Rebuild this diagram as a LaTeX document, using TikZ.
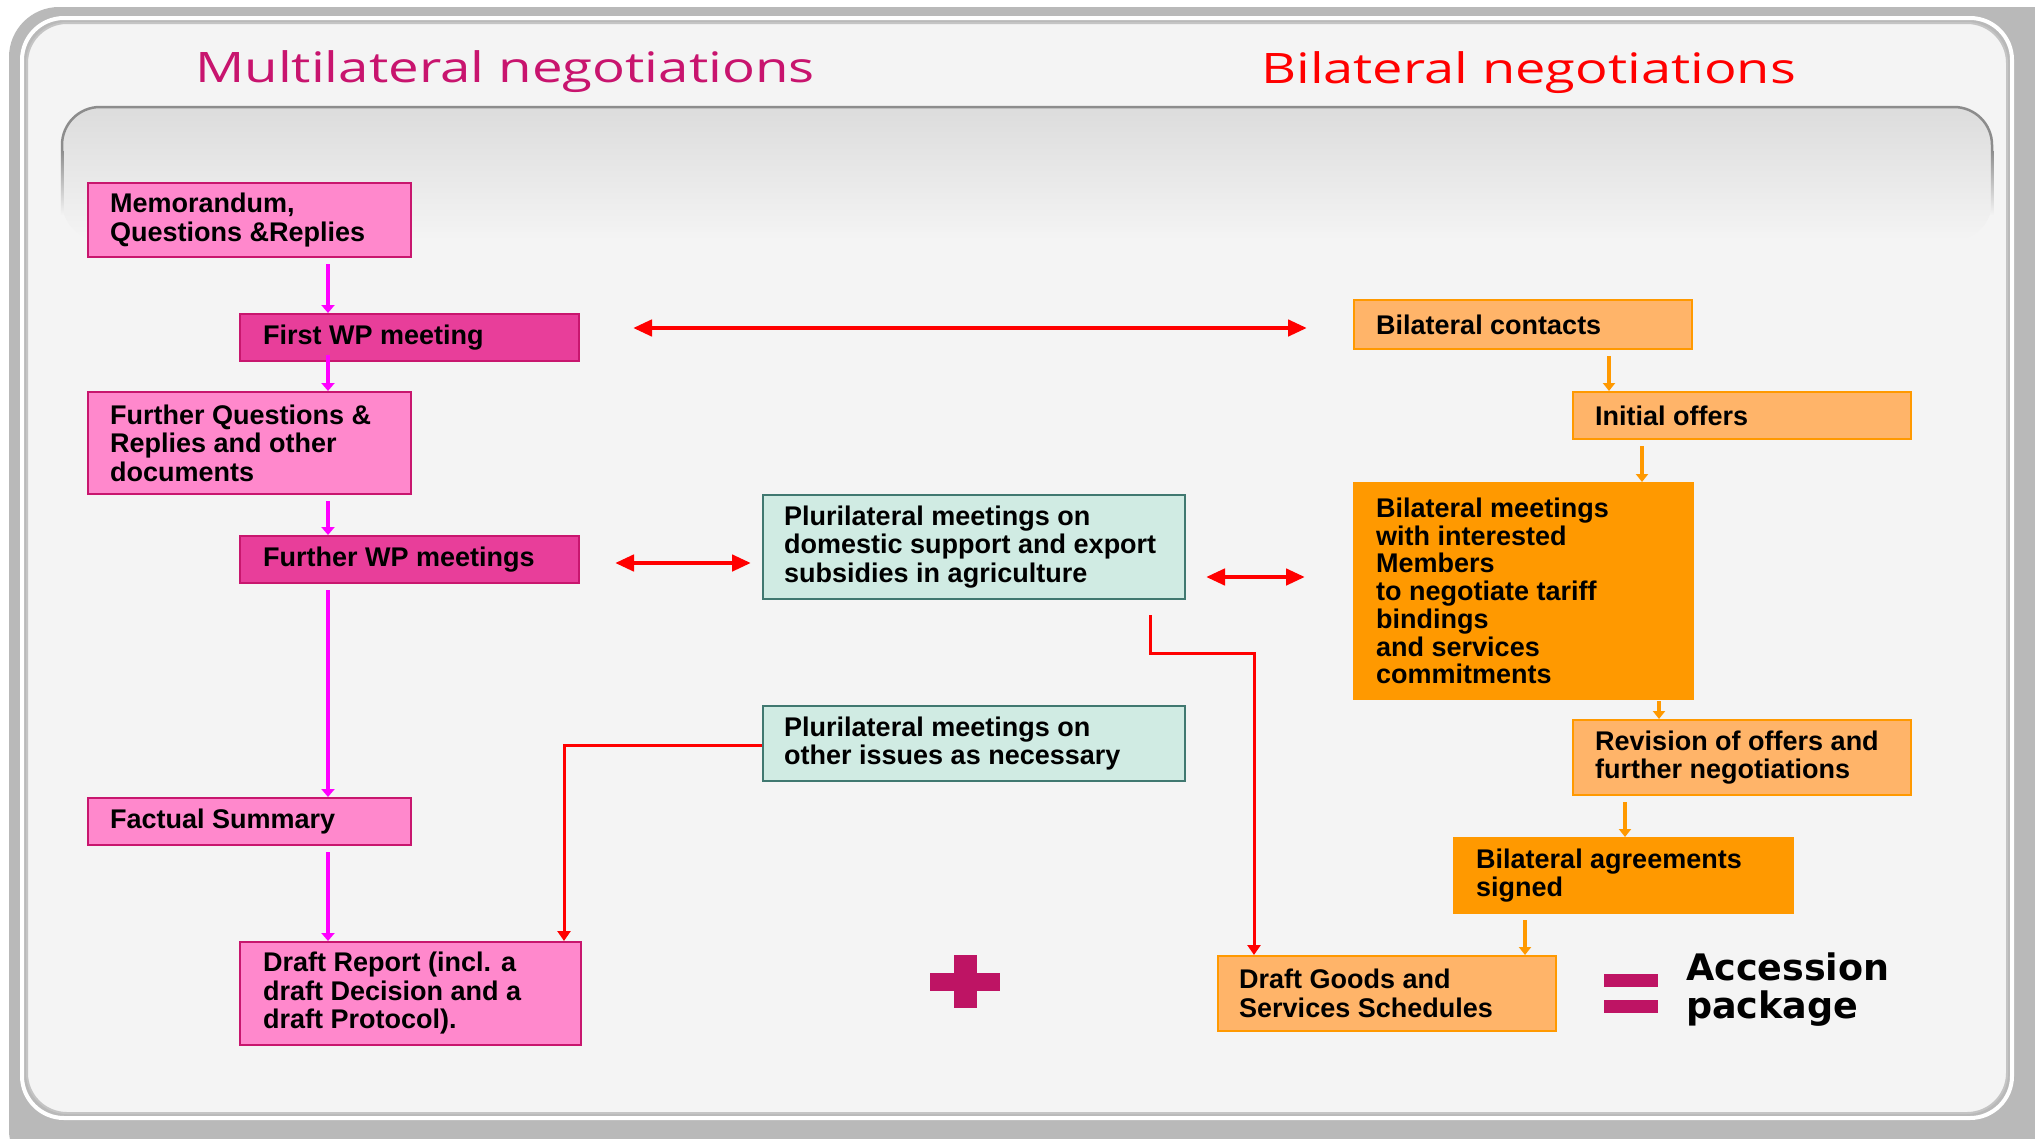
\documentclass[tikz,border=0pt]{standalone}
\usepackage{graphicx}
\usepackage{fontspec}
\setmainfont{Liberation Sans}
\newfontfamily\titlefont{Open Sans}
\newfontfamily\accfont{DejaVu Sans}
\usetikzlibrary{arrows.meta}
\definecolor{bgc}{RGB}{244,244,244}
\definecolor{bandc}{RGB}{185,185,185}
\definecolor{panelline}{RGB}{196,196,196}
\definecolor{tabline}{RGB}{140,140,140}
\definecolor{tabtop}{RGB}{220,220,220}
\definecolor{pinkl}{RGB}{255,136,204}
\definecolor{pinkd}{RGB}{232,62,154}
\definecolor{pinkb}{RGB}{200,22,110}
\definecolor{tealf}{RGB}{208,235,227}
\definecolor{tealb}{RGB}{64,120,112}
\definecolor{orl}{RGB}{255,180,105}
\definecolor{ord}{RGB}{255,153,0}
\definecolor{crim}{RGB}{190,20,100}
\definecolor{magl}{RGB}{255,0,255}
\definecolor{titlemag}{RGB}{200,20,110}
\begin{document}
\begin{tikzpicture}[x=1pt,y=-1pt,
  boxbase/.style={rectangle, line width=2pt, inner sep=0pt, anchor=north west},
  pinkbox/.style={boxbase, fill=pinkl, draw=pinkb},
  darkpinkbox/.style={boxbase, fill=pinkd, draw=pinkb},
  tealbox/.style={boxbase, fill=tealf, draw=tealb},
  lorbox/.style={boxbase, fill=orl, draw=ord},
  dorbox/.style={boxbase, fill=ord, draw=ord},
  btext/.style={anchor=west, align=left, inner sep=0pt, text=black,
    font=\bfseries\fontsize{27}{28.5}\selectfont},
  magarrow/.style={draw=magl, line width=4pt, shorten <=6pt,
    -{Triangle[length=8pt,width=13pt]}},
  redbig/.style={draw=red, line width=4.5pt,
    {Triangle[length=19pt,width=16pt]}-{Triangle[length=19pt,width=16pt]}},
  redthin/.style={draw=red, line width=3pt, -{Triangle[length=10pt,width=13pt]}},
  orarrow/.style={draw=ord, line width=3.5pt, shorten <=6pt,
    -{Triangle[length=8pt,width=12pt]}},
  titlestyle/.style={anchor=base west, inner sep=0pt,
    font=\titlefont\fontsize{42}{50}\selectfont}
]
\useasboundingbox (0,0) rectangle (2035,1138);
% ---------- frame ----------
\fill[white] (0,0) rectangle (2035,1138);
\fill[bandc, rounded corners=50pt] (9,7) rectangle (2080,1180);
\draw[white, line width=4pt, rounded corners=42pt] (22,18) rectangle (2012,1118);
\filldraw[fill=bgc, draw=panelline, line width=2pt, rounded corners=40pt] (27,23) rectangle (2007,1113);
% tab panel
\shade[top color=tabtop, bottom color=bgc, rounded corners=38pt] (62,240) -- (62,107) -- (1992,107) -- (1992,240) -- cycle;
\draw[tabline, line width=2.5pt, rounded corners=38pt] (62,150) -- (62,107) -- (1992,107) -- (1992,150);
\shade[top color=tabline, bottom color=bgc] (60.75,150) rectangle (63.25,215);
\shade[top color=tabline, bottom color=bgc] (1990.75,150) rectangle (1993.25,215);
% ---------- titles ----------
\node[titlestyle, text=titlemag] (multi) at (195,82) {\scalebox{1.3}[1]{Multilateral negotiations}};
\node[titlestyle, text=red] (bilat) at (1261,83) {\scalebox{1.29}[1]{Bilateral negotiations}};
% ---------- boxes ----------
\node[pinkbox, minimum width=323pt, minimum height=74pt] (memo) at (87,182) {};
\node[darkpinkbox, minimum width=339pt, minimum height=47pt] (fwp) at (239,313) {};
\node[pinkbox, minimum width=323pt, minimum height=102pt] (fq) at (87,391) {};
\node[darkpinkbox, minimum width=339pt, minimum height=47pt] (fwpm) at (239,535) {};
\node[pinkbox, minimum width=323pt, minimum height=47pt] (fact) at (87,797) {};
\node[pinkbox, minimum width=341pt, minimum height=103pt] (draft) at (239,941) {};
\node[tealbox, minimum width=422pt, minimum height=104pt] (pluri1) at (762,494) {};
\node[tealbox, minimum width=422pt, minimum height=75pt] (pluri2) at (762,705) {};
\node[lorbox, minimum width=338pt, minimum height=49pt] (contacts) at (1353,299) {};
\node[lorbox, minimum width=338pt, minimum height=47pt] (offers) at (1572,391) {};
\node[dorbox, minimum width=339pt, minimum height=216pt] (bmeet) at (1353,482) {};
\node[lorbox, minimum width=338pt, minimum height=75pt] (revision) at (1572,719) {};
\node[dorbox, minimum width=339pt, minimum height=75pt] (agree) at (1453,837) {};
\node[lorbox, minimum width=338pt, minimum height=75pt] (goods) at (1217,955) {};
% ---------- box texts ----------
\node[btext] (memo-t) at ([xshift=23pt]memo.west) {Memorandum,\\Questions \&Replies};
\node[btext] (fwp-t) at ([xshift=24pt]fwp.west) {First WP meeting};
\node[btext] (fq-t) at ([xshift=23pt]fq.west) {Further Questions \&\\Replies and other\\documents};
\node[btext] (fwpm-t) at ([xshift=24pt]fwpm.west) {Further WP meetings};
\node[btext] (fact-t) at ([xshift=23pt]fact.west) {Factual Summary};
\node[btext] (draft-t) at ([xshift=24pt]draft.west) {Draft Report (incl. a\\draft Decision and a\\draft Protocol).};
\node[btext] (pluri1-t) at ([xshift=22pt]pluri1.west) {Plurilateral meetings on\\domestic support and export\\subsidies in agriculture};
\node[btext] (pluri2-t) at ([xshift=22pt]pluri2.west) {Plurilateral meetings on\\other issues as necessary};
\node[btext] (contacts-t) at ([xshift=23pt]contacts.west) {Bilateral contacts};
\node[btext] (offers-t) at ([xshift=23pt]offers.west) {Initial offers};
\node[btext, font=\bfseries\fontsize{27}{27.7}\selectfont] (bmeet-t) at ([xshift=23pt]bmeet.west) {Bilateral meetings\\with interested\\Members\\to negotiate tariff\\bindings\\and services\\commitments};
\node[btext] (revision-t) at ([xshift=23pt]revision.west) {Revision of offers and\\further negotiations};
\node[btext] (agree-t) at ([xshift=23pt]agree.west) {Bilateral agreements\\signed};
\node[btext] (goods-t) at ([xshift=22pt]goods.west) {Draft Goods and\\Services Schedules};
% ---------- plus, equals, result ----------
\fill[crim] (930,973) rectangle (1000,991);
\fill[crim] (954,955) rectangle (977,1008);
\fill[crim] (1604,974) rectangle (1658,987);
\fill[crim] (1604,1000) rectangle (1658,1013);
\node[anchor=west, align=left, inner sep=0pt, text=black,
  font=\accfont\bfseries\fontsize{36.5}{38}\selectfont] (acc) at (1686,990) {Accession\\package};
% ---------- connectors ----------
\coordinate (mx) at (328,0);
\draw[magarrow] (memo.south -| mx) -- (fwp.north -| mx);
\draw[magarrow, shorten <=-7pt] (fwp.south -| mx) -- (fq.north -| mx);
\draw[magarrow] (fq.south -| mx) -- (fwpm.north -| mx);
\draw[magarrow] (fwpm.south -| mx) -- (fact.north -| mx);
\draw[magarrow] (fact.south -| mx) -- (draft.north -| mx);
\coordinate (ya) at (0,328);
\draw[redbig, shorten <=53pt, shorten >=46pt] (fwp.east |- ya) -- (contacts.west |- ya);
\coordinate (yb) at (0,563);
\draw[redbig, shorten <=35pt, shorten >=11pt] (fwpm.east |- yb) -- (pluri1.west |- yb);
\coordinate (yc) at (0,577);
\draw[redbig, shorten <=20pt, shorten >=48pt] (pluri1.east |- yc) -- (bmeet.west |- yc);
\coordinate (r1) at (1150,653);
\coordinate (r2) at (1254,653);
\draw[redthin, shorten <=15pt] (pluri1.south -| r1) -- (r1) -- (r2) -- (goods.north -| r2);
\coordinate (r3) at (564,745);
\draw[redthin] (pluri2.west |- r3) -- (r3) -- (draft.north -| r3);
\coordinate (o1) at (1609,0);
\coordinate (o2) at (1642,0);
\coordinate (o3) at (1659,0);
\coordinate (o4) at (1625,0);
\coordinate (o5) at (1525,0);
\draw[orarrow] (contacts.south -| o1) -- (offers.north -| o1);
\draw[orarrow] (offers.south -| o2) -- (bmeet.north -| o2);
\draw[orarrow, shorten <=1pt] (bmeet.south -| o3) -- (revision.north -| o3);
\draw[orarrow] (revision.south -| o4) -- (agree.north -| o4);
\draw[orarrow] (agree.south -| o5) -- (goods.north -| o5);
\end{tikzpicture}
\end{document}
